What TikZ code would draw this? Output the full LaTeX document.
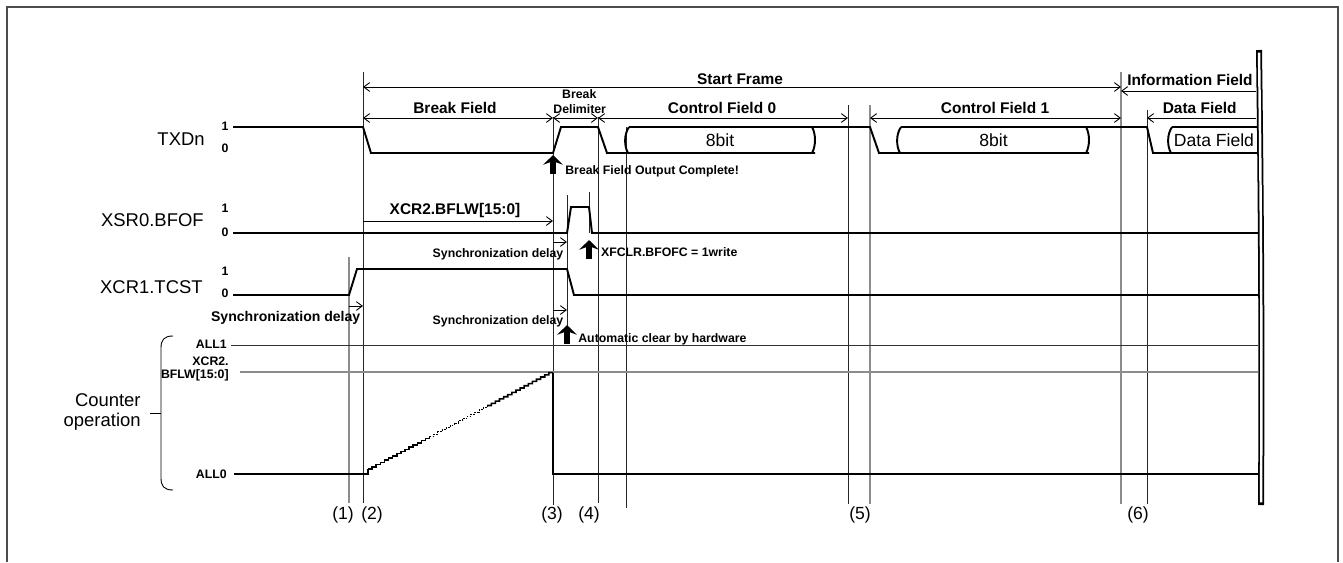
\documentclass[tikz,border=0pt]{standalone}
\usepackage{fontspec}
\setmainfont{Liberation Sans}
\usetikzlibrary{arrows.meta}

\begin{document}
\begin{tikzpicture}[x=0.02cm, y=-0.02cm, >={Straight Barb[length=3.4pt,width=5pt]},
    sigline/.style={line width=1.1pt},
    hair/.style={line width=0.5pt},
    tline/.style={line width=0.5pt, black!85},
    gtline/.style={line width=0.6pt, black!45},
    signame/.style={font=\fontsize{10.5}{12}\selectfont, inner sep=0pt},
    boxtext/.style={font=\fontsize{10}{12}\selectfont, inner sep=0pt, anchor=base},
    fieldlabel/.style={font=\fontsize{8.8}{10}\selectfont\bfseries, inner sep=0pt, anchor=base},
    note/.style={font=\fontsize{7}{8.5}\selectfont\bfseries, inner sep=0pt},
    lvl/.style={font=\fontsize{7}{8}\selectfont\bfseries, inner sep=0pt, anchor=base},
    pnum/.style={font=\fontsize{10}{11}\selectfont, inner sep=0pt, anchor=base},
    flagarrow/.style={line width=3pt, -{Stealth[length=5.5pt,width=11pt,inset=2pt]}}]
    \useasboundingbox (0,0) rectangle (1343,562);
    \draw[black!70, line width=0.8pt] (7,562) -- (7,7) -- (1338,7) -- (1338,562);

    \node[signame, anchor=base east] (txdn) at (205,145.7) {TXDn};
    \node[signame, anchor=base east] (xsr) at (204,226.7) {XSR0.BFOF};
    \node[signame, anchor=base east] (tcst) at (203,293) {XCR1.TCST};
    \node[signame, anchor=east, align=right, font=\fontsize{10.5}{11.3}\selectfont] (cnt) at (141,412) {Counter\\operation};

    \node[lvl] (txdnhi) at (225,130) {1};
    \node[lvl] (txdnlo) at (225,152.3) {0};
    \node[lvl] (xsrhi) at (225,212.7) {1};
    \node[lvl] (xsrlo) at (225,236) {0};
    \node[lvl] (tcsthi) at (225,275) {1};
    \node[lvl] (tcstlo) at (225,297.7) {0};
    \node[note, anchor=base east] (all1) at (227,348.3) {ALL1};
    \node[note, anchor=east, align=right, font=\fontsize{7}{7.4}\selectfont\bfseries] (bflwlvl) at (229,369) {XCR2.\\BFLW[15:0]};
    \node[note, anchor=base east] (all0) at (227,478.5) {ALL0};

    \draw[hair] (173,336) .. controls (164,336) and (161,340) .. (161,348) -- (161,478) .. controls (161,486) and (164,490) .. (173,490);
    \draw[hair] (150,413) -- (161,413);

    \draw[gtline] (349,257) -- (349,503);
    \draw[tline] (363,72) -- (363,503);
    \draw[tline] (553,117) -- (553,505);
    \draw[tline] (567,195) -- (567,327);
    \draw[tline] (589,192) -- (589,233);
    \draw[tline] (598,117) -- (598,503);
    \draw[tline] (626,127) -- (626,508);
    \draw[tline] (848,105) -- (848,504);
    \draw[gtline] (870,105) -- (870,504);
    \draw[gtline] (1121,72) -- (1121,504);
    \draw[tline] (1147,110) -- (1147,504);

    \node[fieldlabel] (sframe) at (740,84) {Start Frame};
    \node[fieldlabel, anchor=base east] (ifield) at (1253,85) {Information Field};
    \node[fieldlabel] (bfield) at (455,113) {Break Field};
    \node[note, anchor=base] (bdlm) at (579.3,98.3) {Break};
    \node[note, anchor=base] (bdlm2) at (579.7,113.3) {Delimiter};
    \node[fieldlabel] (cf0) at (722,113) {Control Field 0};
    \node[fieldlabel] (cf1) at (995,113) {Control Field 1};
    \node[fieldlabel, anchor=base east] (dfield) at (1237,113) {Data Field};
    \node[fieldlabel] (bflw) at (455,214.5) {XCR2.BFLW[15:0]};

    \draw[hair, <->] (363,87) -- (1121,87);
    \draw[hair, <-] (1121,91) -- (1256,91);
    \draw[hair, <->] (363,118) -- (553,118);
    \draw[hair, <->] (553,118) -- (598,118);
    \draw[hair, <->] (598,118) -- (848,118);
    \draw[hair, <->] (870,118) -- (1121,118);
    \draw[hair, <-] (1147,118) -- (1256,118);
    \draw[hair, ->] (363,221) -- (553,221);
    \draw[hair, ->] (349,306) -- (363,306);
    \draw[hair, ->] (553,242) -- (567,242);
    \draw[hair, ->] (553,310) -- (567,310);

    \draw[sigline] (233,127) -- (363,127) -- (371,153) -- (553,153) -- (561,127) -- (598,127) -- (607,153) -- (815,153);
    \draw[sigline] (629,127) -- (870,127) -- (879,153) -- (1089,153);
    \draw[sigline] (629,127) .. controls (624,134) and (624,146) .. (628,153);
    \draw[sigline] (812,127) .. controls (816,134) and (816,146) .. (812,153);
    \draw[sigline] (901,127) -- (1147,127) -- (1153,153) -- (1258,153);
    \draw[sigline] (901,127) .. controls (896,134) and (896,146) .. (900,153);
    \draw[sigline] (1086,127) .. controls (1090,134) and (1090,146) .. (1086,153);
    \draw[sigline] (1172,127) -- (1258,127);
    \draw[sigline] (1172,127) .. controls (1167,134) and (1167,146) .. (1171,153);
    \node[boxtext] (bits0) at (720,146.5) {8bit};
    \node[boxtext] (bits1) at (993.5,146.5) {8bit};
    \node[boxtext] (dbox) at (1214,146) {Data Field};

    \draw[sigline] (233,233) -- (567,233) -- (571,207) -- (589,207) -- (592,233) -- (1258,233);
    \draw[sigline] (233,295) -- (349,295) -- (357,269) -- (567,269) -- (574,295) -- (1258,295);
    \draw[hair, black!80] (231,345) -- (1258,345);
    \draw[line width=1pt, black!45] (240,372) -- (1258,372);
    \draw[sigline] (234,474) -- (368,474) -- (368,469);
    \draw[line width=0.9pt] (368,469) \foreach \i in {1,...,15}{ -- ++(4.11,0) -- ++(0,-2.19)};
    \draw[line width=0.5pt, dash pattern=on 1pt off 0.7pt] (429.65,436.15) \foreach \i in {16,...,29}{ -- ++(4.11,0) -- ++(0,-2.19)};
    \draw[line width=0.9pt] (487.19,405.49) \foreach \i in {30,...,44}{ -- ++(4.11,0) -- ++(0,-2.19)} -- (553,372.6);
    \draw[sigline] (553,372.6) -- (553,474) -- (1258,474);

    \draw[flagarrow] (553,174) -- (553,155);
    \node[note, anchor=base west] (bfdone) at (565,174) {Break Field Output Complete!};
    \node[note, anchor=base] (sync1) at (498,257.3) {Synchronization delay};
    \draw[flagarrow] (589,259) -- (589,240);
    \node[note, anchor=base west] (clrw) at (600.7,256) {XFCLR.BFOFC = 1write};
    \node[note, anchor=base, font=\fontsize{8}{9}\selectfont\bfseries] (sync0) at (285.7,321.7) {Synchronization delay};
    \node[note, anchor=base] (sync2) at (498,324) {Synchronization delay};
    \draw[flagarrow] (567,344) -- (567,325);
    \node[note, anchor=base west] (autoclr) at (578,342) {Automatic clear by hardware};

    \draw[line width=3.4pt] (1259,50) .. controls (1261,200) and (1262,350) .. (1261,505);
    \draw[line width=1.4pt, white, shorten <=1.5pt, shorten >=1.5pt] (1259,50) .. controls (1261,200) and (1262,350) .. (1261,505);

    \node[pnum] (p1) at (343,519) {(1)};
    \node[pnum] (p2) at (372,519) {(2)};
    \node[pnum] (p3) at (552,519) {(3)};
    \node[pnum] (p4) at (589,519) {(4)};
    \node[pnum] (p5) at (860,519) {(5)};
    \node[pnum] (p6) at (1138,519) {(6)};
\end{tikzpicture}
\end{document}
